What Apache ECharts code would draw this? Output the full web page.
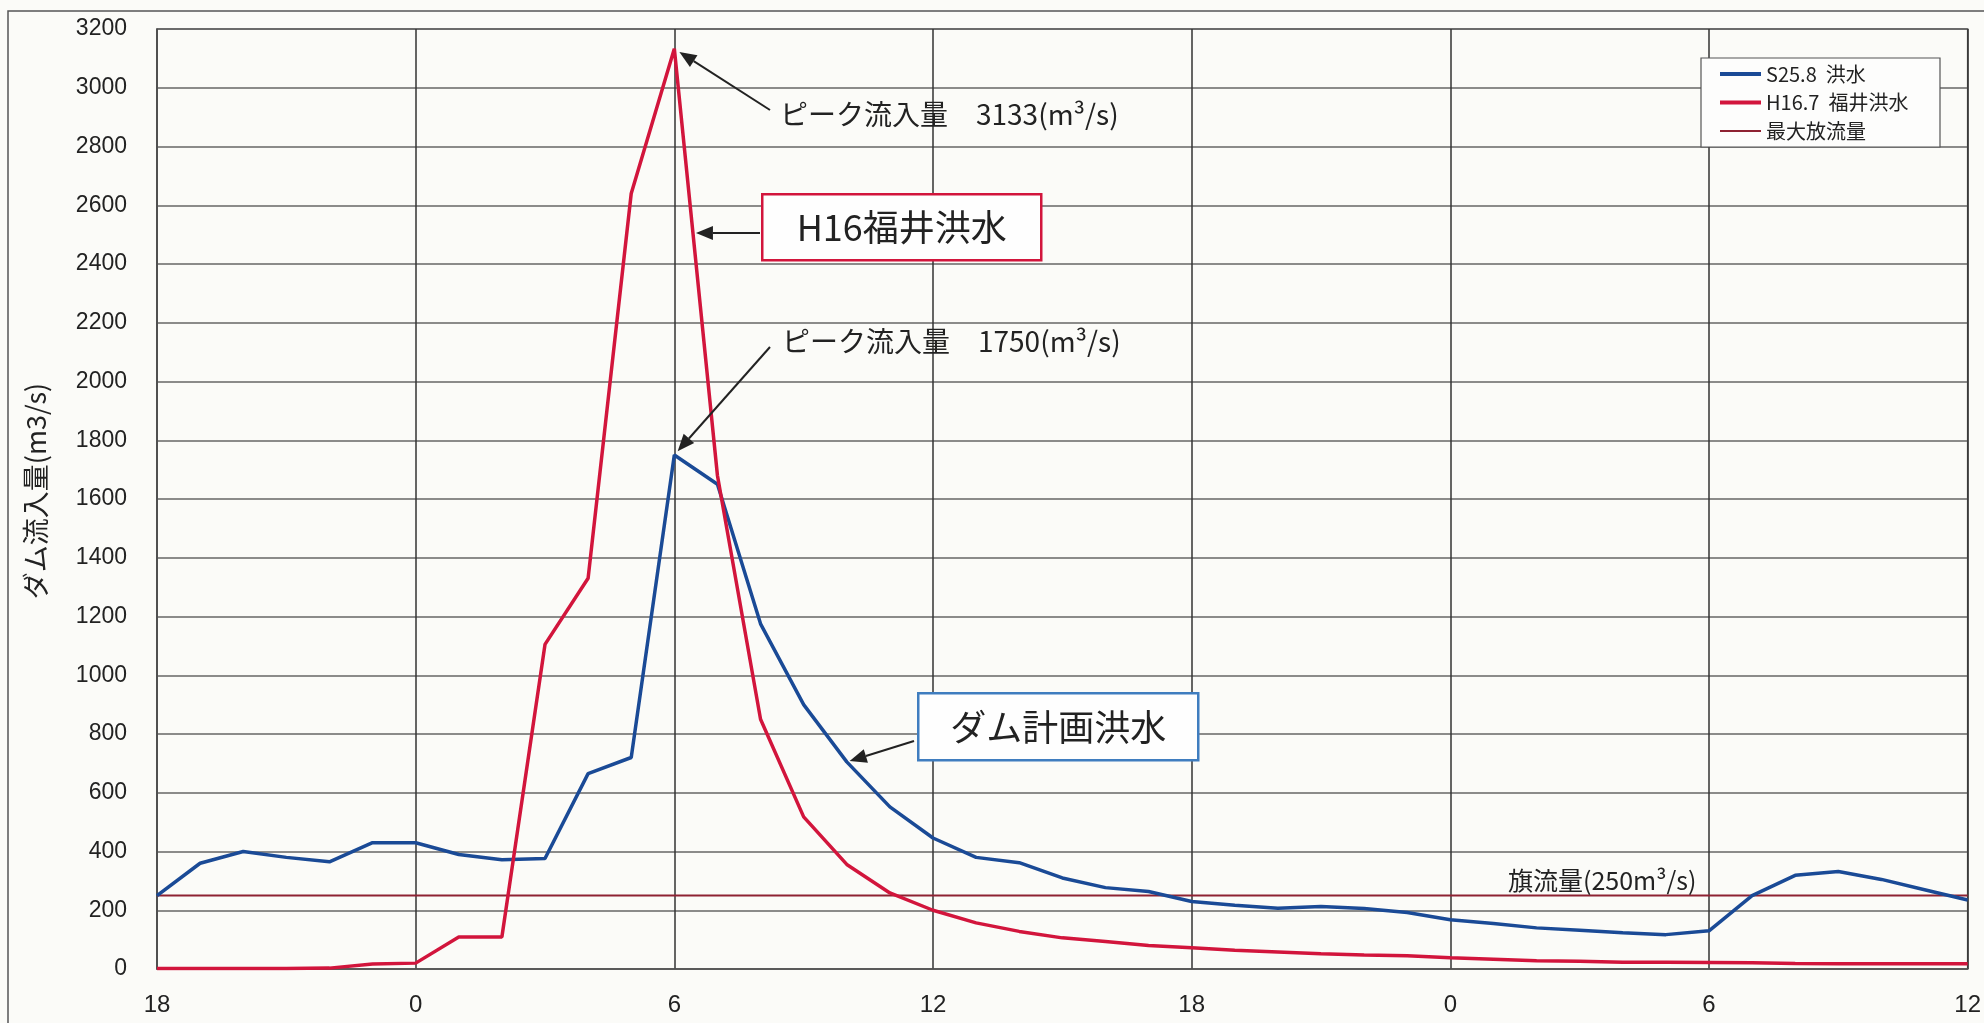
<!DOCTYPE html>
<html><head><meta charset="utf-8">
<script src="https://cdn.jsdelivr.net/npm/echarts@6/dist/echarts.min.js"></script>
<style>html,body{margin:0;padding:0;background:#fbfbf8}#c{width:1984px;height:1023px}</style>
</head><body><div id="c"></div>
<script>
// hourly time labels from 18:00 (day 1) to 12:00 (day 3)
const hourLabels = ['18','19','20','21','22','23',
  '0','1','2','3','4','5','6','7','8','9','10','11','12','13','14','15','16','17','18','19','20','21','22','23',
  '0','1','2','3','4','5','6','7','8','9','10','11','12'];
const tickLabels = ['18','0','6','12','18','0','6','12'];
// S25.8 洪水 (ダム計画洪水)
const s25 = [250,360,400,380,365,430,430,390,372,376,665,720,1750,1650,1175,900,705,552,446,380,362,310,277,264,230,217,207,213,206,192,168,155,140,132,123,117,130,250,319,332,305,270,235];
// H16.7 福井洪水
const h16 = [2,2,2,2,3,17,20,109,109,1105,1330,2640,3133,1680,850,518,356,259,200,157,128,106,94,80,72,64,58,52,48,45,38,33,28,26,23,23,22,21,19,18,18,18,18];
// 最大放流量
const maxRelease = 250;
const seriesNames = ['S25.8  洪水','H16.7  福井洪水','最大放流量'];

const FONT = "'Liberation Sans', Arial, sans-serif";
const JP = "'Noto Sans CJK JP', sans-serif";
const toPairs = arr => arr.map((v,i)=>[i,v]);
const thick = 'path://M0,0H10V1H0Z', thin = 'path://M0,0H20V1H0Z';

const chart = echarts.init(document.getElementById('c'));
const option = {
  backgroundColor:'#fbfbf8',
  animation:false,
  grid:{left:157,right:15,top:29,bottom:54,show:true,borderColor:'#555',borderWidth:1.5,backgroundColor:'transparent'},
  legend:{
    orient:'vertical', left:1720, top:64, align:'left', padding:0, itemWidth:41, itemHeight:14, itemGap:8.5, z:4,
    symbolKeepAspect:true,
    textStyle:{fontFamily:JP,fontSize:20,color:'#222'},
    data:[{name:seriesNames[0],icon:thick},{name:seriesNames[1],icon:thick},{name:seriesNames[2],icon:thin}]
  },
  xAxis:{
    type:'value', min:0, max:hourLabels.length-1, interval:6,
    axisLine:{show:true,lineStyle:{color:'#555',width:1.5}},
    axisTick:{show:false},
    axisLabel:{fontFamily:FONT,fontSize:24,color:'#222',margin:24,formatter:v=>tickLabels[Math.round(v/6)]},
    splitLine:{show:true,lineStyle:{color:'#333',width:1.5}}
  },
  yAxis:{
    type:'value', min:0, max:3200, interval:200,
    name:'ダム流入量(m3/s)', nameLocation:'middle', nameGap:108,
    nameTextStyle:{fontFamily:JP,fontSize:27,color:'#222',padding:[0,0,0,16]},
    axisLine:{show:true,lineStyle:{color:'#555',width:1.5}},
    axisTick:{show:false},
    axisLabel:{fontFamily:FONT,fontSize:23,color:'#222',margin:30,formatter:v=>String(v)},
    splitLine:{show:true,lineStyle:{color:'#666',width:1.5}}
  },
  series:[
    {name:seriesNames[0],type:'line',data:toPairs(s25),symbol:'none',lineStyle:{color:'#1a4a96',width:3.5},itemStyle:{color:'#1a4a96'},z:3},
    {name:seriesNames[1],type:'line',data:toPairs(h16),symbol:'none',lineStyle:{color:'#d2153c',width:3.5},itemStyle:{color:'#d2153c'},z:3},
    {name:seriesNames[2],type:'line',data:[[0,maxRelease],[hourLabels.length-1,maxRelease]],symbol:'none',lineStyle:{color:'#8e2232',width:2},itemStyle:{color:'#8e2232'},z:2}
  ]
};
chart.setOption(option);

function px(h,v){return chart.convertToPixel({gridIndex:0},[h,v]);}
function arrow(tail, target, gap){
  const dx=tail[0]-target[0], dy=tail[1]-target[1], L=Math.hypot(dx,dy);
  const ux=dx/L, uy=dy/L;
  const tip=[target[0]+ux*gap, target[1]+uy*gap];
  const hl=17, hw=7;
  const base=[tip[0]+ux*hl, tip[1]+uy*hl];
  const nx=-uy, ny=ux;
  return [
    {type:'line',z:6,shape:{x1:tail[0],y1:tail[1],x2:base[0],y2:base[1]},style:{stroke:'#222',lineWidth:2}},
    {type:'polygon',z:6,shape:{points:[tip,[base[0]+nx*hw,base[1]+ny*hw],[base[0]-nx*hw,base[1]-ny*hw]]},style:{fill:'#222'}}
  ];
}
const iPk = h16.indexOf(Math.max(...h16));
const iPkB = s25.indexOf(Math.max(...s25));
const pRed = px(iPk, h16[iPk]);
const pBlue = px(iPkB, s25[iPkB]);
// point on the red falling limb at arrow height
const arrowY = 233;
const vAt = chart.convertFromPixel({gridIndex:0},[0,arrowY])[1];
const fr = (h16[iPk]-vAt)/(h16[iPk]-h16[iPk+1]);
const pRedLimb = px(iPk+fr, vAt);
const pBlueLimb = px(16, s25[16]);

const g = [
  {type:'rect',z:0,shape:{x:8,y:11,width:2000,height:1100},style:{fill:'none',stroke:'#555',lineWidth:1.5}},
  {type:'rect',z:3,shape:{x:1701,y:58,width:239,height:89},style:{fill:'#fdfdfc',stroke:'#555',lineWidth:1.2}},
  {type:'text',z:6,left:780,top:100,style:{text:'ピーク流入量　3133(m³/s)',font:'28px '+JP,fill:'#222'}},
  {type:'text',z:6,left:782,top:327,style:{text:'ピーク流入量　1750(m³/s)',font:'28px '+JP,fill:'#222'}},
  {type:'group',z:6,left:761,top:193,children:[
    {type:'rect',z:6,shape:{x:0,y:0,width:279,height:66},style:{fill:'#fefefe',stroke:'#d2153c',lineWidth:2.5}},
    {type:'text',z:7,style:{text:'H16福井洪水',x:139.5,y:33,textAlign:'center',textVerticalAlign:'middle',font:'36px '+JP,fill:'#222'}}
  ]},
  {type:'group',z:6,left:917,top:692,children:[
    {type:'rect',z:6,shape:{x:0,y:0,width:280,height:67},style:{fill:'#fefefe',stroke:'#3f7dbf',lineWidth:2.5}},
    {type:'text',z:7,style:{text:'ダム計画洪水',x:140,y:34,textAlign:'center',textVerticalAlign:'middle',font:'36px '+JP,fill:'#222'}}
  ]},
  {type:'text',z:6,left:1508,top:868,style:{text:'旗流量(250m³/s)',font:'25px '+JP,fill:'#222'}}
];
g.push(...arrow([770,110], pRed, 6));
g.push(...arrow([770,347], pBlue, 5));
g.push(...arrow([760,arrowY], pRedLimb, 3));
g.push(...arrow([914,741], pBlueLimb, 3));
chart.setOption({graphic:g});
</script></body></html>
